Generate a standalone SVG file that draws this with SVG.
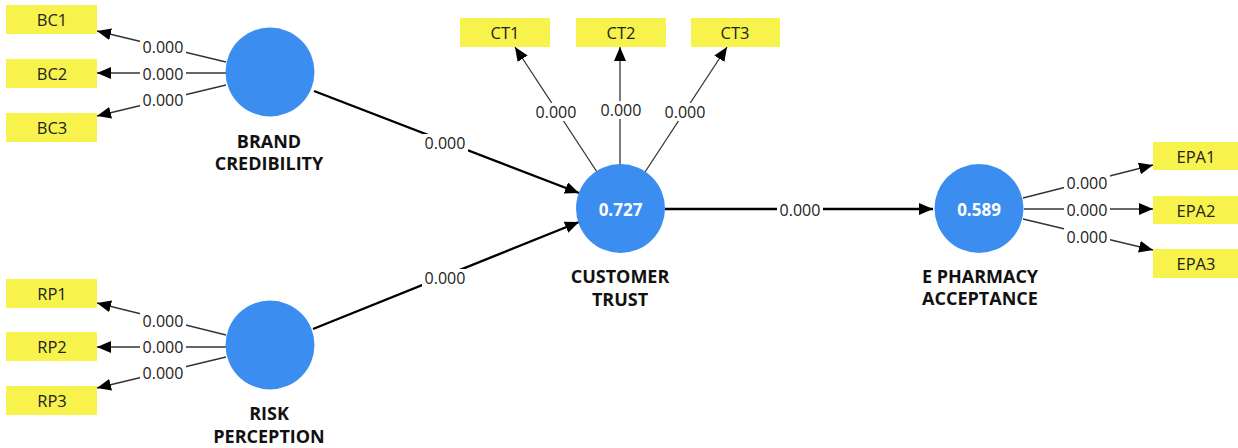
<svg xmlns="http://www.w3.org/2000/svg" width="1238" height="448" viewBox="0 0 1238 448">
<style>
.box{fill:#f7f34c}
.bt{font-family:"Open Sans","Noto Sans",sans-serif;font-size:16.5px;fill:#222;text-anchor:middle;dominant-baseline:central}
.lv{fill:#3b8ef0}
.lt{font-family:"Open Sans","Noto Sans",sans-serif;font-size:18px;font-weight:bold;fill:#111;text-anchor:middle}
.r2{font-family:"Open Sans","Noto Sans",sans-serif;font-size:17px;font-weight:bold;fill:#fff;text-anchor:middle;dominant-baseline:central}
.m{stroke:#333;stroke-width:1.3;fill:none;marker-end:url(#ah)}
.s{stroke:#000;stroke-width:2.4;fill:none;marker-end:url(#ah)}
.lb{font-family:"Open Sans","Noto Sans",sans-serif;font-size:16px;fill:#222;text-anchor:middle;dominant-baseline:central}
.bg{fill:#fff}
</style>
<defs>
<marker id="ah" markerUnits="userSpaceOnUse" markerWidth="16" markerHeight="12" refX="14" refY="6" orient="auto">
<path d="M0,0 L14,6 L0,12 Z" fill="#000"/>
</marker>
</defs>
<g id="connectors">
<line class="m" x1="226" y1="62" x2="97" y2="31"/>
<line class="m" x1="226" y1="73" x2="97" y2="73"/>
<line class="m" x1="226" y1="85" x2="97" y2="116"/>
<line class="m" x1="226" y1="335" x2="97" y2="303"/>
<line class="m" x1="226" y1="347" x2="97" y2="347"/>
<line class="m" x1="226" y1="357" x2="97" y2="388"/>
<line class="m" x1="597" y1="172" x2="515" y2="47"/>
<line class="m" x1="620" y1="165" x2="620" y2="47"/>
<line class="m" x1="645" y1="172" x2="727" y2="47"/>
<line class="m" x1="1023" y1="198" x2="1153" y2="165"/>
<line class="m" x1="1024" y1="209" x2="1153" y2="209"/>
<line class="m" x1="1023" y1="219" x2="1153" y2="250"/>
<line class="s" x1="314" y1="91" x2="579" y2="193"/>
<line class="s" x1="313" y1="329" x2="579" y2="222"/>
<line class="s" x1="665" y1="209" x2="933" y2="209"/>
<g id="labels">
<rect class="bg" x="140" y="38" width="46" height="17"/><text class="lb" x="163" y="47">0.000</text>
<rect class="bg" x="140" y="65" width="46" height="17"/><text class="lb" x="163" y="74">0.000</text>
<rect class="bg" x="140" y="91" width="46" height="17"/><text class="lb" x="163" y="100">0.000</text>
<rect class="bg" x="140" y="312" width="46" height="17"/><text class="lb" x="163" y="321">0.000</text>
<rect class="bg" x="140" y="338" width="46" height="17"/><text class="lb" x="163" y="347">0.000</text>
<rect class="bg" x="140" y="364" width="46" height="17"/><text class="lb" x="163" y="373">0.000</text>
<rect class="bg" x="533" y="103" width="46" height="18"/><text class="lb" x="556" y="112">0.000</text>
<rect class="bg" x="598" y="101" width="46" height="18"/><text class="lb" x="621" y="110">0.000</text>
<rect class="bg" x="662" y="103" width="46" height="18"/><text class="lb" x="685" y="112">0.000</text>
<rect class="bg" x="1064" y="174" width="46" height="17"/><text class="lb" x="1087" y="183">0.000</text>
<rect class="bg" x="1064" y="201" width="46" height="17"/><text class="lb" x="1087" y="210">0.000</text>
<rect class="bg" x="1064" y="228" width="46" height="17"/><text class="lb" x="1087" y="237">0.000</text>
<rect class="bg" x="422" y="134" width="46" height="18"/><text class="lb" x="445" y="143">0.000</text>
<rect class="bg" x="422" y="269" width="46" height="18"/><text class="lb" x="445" y="278">0.000</text>
<rect class="bg" x="777" y="201" width="46" height="18"/><text class="lb" x="800" y="210">0.000</text>
</g>
</g>
<g id="BC1"><rect class="box" x="6" y="5" width="91" height="29"/><text class="bt" x="52" y="19.5">BC1</text></g>
<g id="BC2"><rect class="box" x="6" y="59" width="91" height="29"/><text class="bt" x="52" y="73.5">BC2</text></g>
<g id="BC3"><rect class="box" x="6" y="113" width="91" height="29"/><text class="bt" x="52" y="127.5">BC3</text></g>
<g id="RP1"><rect class="box" x="6" y="279" width="91" height="29"/><text class="bt" x="52" y="293.5">RP1</text></g>
<g id="RP2"><rect class="box" x="6" y="332" width="91" height="29"/><text class="bt" x="52" y="346.5">RP2</text></g>
<g id="RP3"><rect class="box" x="6" y="386" width="91" height="29"/><text class="bt" x="52" y="400.5">RP3</text></g>
<g id="CT1"><rect class="box" x="460" y="18" width="90" height="29"/><text class="bt" x="505" y="32.5">CT1</text></g>
<g id="CT2"><rect class="box" x="576" y="18" width="90" height="29"/><text class="bt" x="621" y="32.5">CT2</text></g>
<g id="CT3"><rect class="box" x="691" y="18" width="89" height="29"/><text class="bt" x="735" y="32.5">CT3</text></g>
<g id="EPA1"><rect class="box" x="1153" y="142" width="85" height="28"/><text class="bt" x="1196" y="156">EPA1</text></g>
<g id="EPA2"><rect class="box" x="1153" y="196" width="85" height="28"/><text class="bt" x="1196" y="210">EPA2</text></g>
<g id="EPA3"><rect class="box" x="1153" y="249" width="85" height="29"/><text class="bt" x="1196" y="263.5">EPA3</text></g>
<g id="BRAND_CREDIBILITY"><circle class="lv" cx="270" cy="72" r="44.5"/><text class="lt" x="269" y="148">BRAND</text><text class="lt" x="269" y="170">CREDIBILITY</text></g>
<g id="RISK_PERCEPTION"><circle class="lv" cx="270" cy="345" r="44.5"/><text class="lt" x="269" y="420">RISK</text><text class="lt" x="269" y="443">PERCEPTION</text></g>
<g id="CUSTOMER_TRUST"><circle class="lv" cx="620.5" cy="208.5" r="44.5"/><text class="r2" x="620.5" y="209">0.727</text><text class="lt" x="620" y="283">CUSTOMER</text><text class="lt" x="620" y="306">TRUST</text></g>
<g id="E_PHARMACY_ACCEPTANCE"><circle class="lv" cx="979" cy="208.5" r="44.5"/><text class="r2" x="979" y="209">0.589</text><text class="lt" x="980" y="283">E PHARMACY</text><text class="lt" x="980" y="305">ACCEPTANCE</text></g>
</svg>
